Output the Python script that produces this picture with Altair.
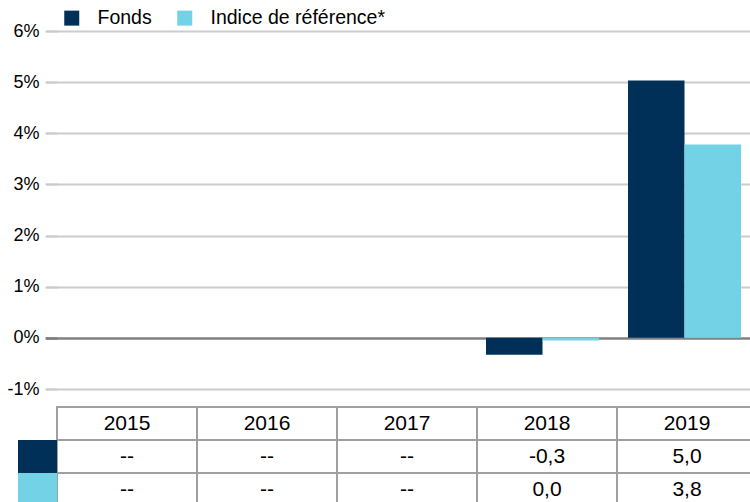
import altair as alt
import pandas as pd

years = ["2015", "2016", "2017", "2018", "2019"]
series = ["Fonds", "Indice de référence*"]
colors = ["#003057", "#73D2E6"]
fonds = [None, None, None, -0.33, 5.03]
indice = [None, None, None, -0.05, 3.78]
fonds_txt = ["--", "--", "--", "-0,3", "5,0"]
indice_txt = ["--", "--", "--", "0,0", "3,8"]
rows = ["header", series[0], series[1]]
y_ticks = [-1, 0, 1, 2, 3, 4, 5, 6]

FONT = "Liberation Sans"

bar_rows = []
for s, vals in zip(series, [fonds, indice]):
    for y, v in zip(years, vals):
        if v is not None:
            bar_rows.append({"year": y, "series": s, "value": v})
bars_df = pd.DataFrame(bar_rows)

cell_rows = []
for y in years:
    cell_rows.append({"year": y, "row": "header", "label": y})
for s, txts in zip(series, [fonds_txt, indice_txt]):
    for y, t in zip(years, txts):
        cell_rows.append({"year": y, "row": s, "label": t})
cells_df = pd.DataFrame(cell_rows)

swatch_df = pd.DataFrame({"row": series, "series": series})

xscale = alt.Scale(domain=years, range=[0, 700], paddingInner=0, paddingOuter=0)
bar_xscale = alt.Scale(domain=years, range=[-11.5, 698.5], paddingInner=0, paddingOuter=0)
cscale = alt.Scale(domain=series, range=colors)
tscale = alt.Scale(domain=rows, range=[376, 475], paddingInner=0, paddingOuter=0)

bars = alt.Chart(bars_df).mark_bar().encode(
    x=alt.X("year:N", scale=bar_xscale, axis=None),
    xOffset=alt.XOffset("series:N", scale=alt.Scale(domain=series, paddingInner=0, paddingOuter=0.257)),
    y=alt.Y(
        "value:Q",
        scale=alt.Scale(domain=[-1, 6], range=[358, 0], nice=False, zero=False),
        axis=alt.Axis(
            values=y_ticks,
            labelExpr="datum.value + '%'",
            title=None,
            domain=False,
            grid=True,
            gridColor={"condition": {"test": "datum.value === 0", "value": "#808080"}, "value": "#cccccc"},
            gridWidth={"condition": {"test": "datum.value === 0", "value": 2.5}, "value": 2},
            tickColor={"condition": {"test": "datum.value === 0", "value": "#808080"}, "value": "#cccccc"},
            tickWidth={"condition": {"test": "datum.value === 0", "value": 2.5}, "value": 2},
            tickSize=12,
            labelPadding=6,
            labelFontSize=18,
            labelFont=FONT,
            labelColor="#000000",
        ),
    ),
    color=alt.Color(
        "series:N",
        scale=cscale,
        legend=alt.Legend(
            title=None,
            orient="none",
            legendX=5,
            legendY=-23,
            direction="horizontal",
            symbolType="square",
            symbolSize=225,
            symbolStrokeWidth=0,
            symbolOpacity=1,
            labelFontSize=19.5,
            labelFont=FONT,
            labelColor="#000000",
            labelOffset=16,
            labelLimit=0,
            columnPadding=23,
            padding=0,
        ),
    ),
)

cells = alt.Chart(cells_df).mark_rect(fill="white", stroke="#a0a0a0", strokeWidth=2).encode(
    x=alt.X("year:N", scale=xscale, axis=None),
    y=alt.Y("row:N", scale=tscale, axis=None),
)

texts = alt.Chart(cells_df).mark_text(fontSize=21, font=FONT, color="#000000", baseline="middle").encode(
    x=alt.X("year:N", scale=xscale, axis=None),
    y=alt.Y("row:N", scale=tscale, axis=None),
    text="label:N",
)

swatches = alt.Chart(swatch_df).mark_rect().encode(
    x=alt.value(-39),
    x2=alt.value(0),
    y=alt.Y("row:N", scale=tscale, axis=None),
    color=alt.Color("series:N", scale=cscale),
)

table = alt.layer(cells, texts, swatches)

chart = alt.layer(bars, table).resolve_scale(y="independent", x="independent").properties(
    width=693,
    height=471,
    autosize=alt.AutoSizeParams(type="none"),
    padding={"left": 57, "top": 31, "right": 0, "bottom": 0},
).configure_view(stroke=None)

chart.save("out.html", embed_options={"renderer": "svg", "actions": False})
